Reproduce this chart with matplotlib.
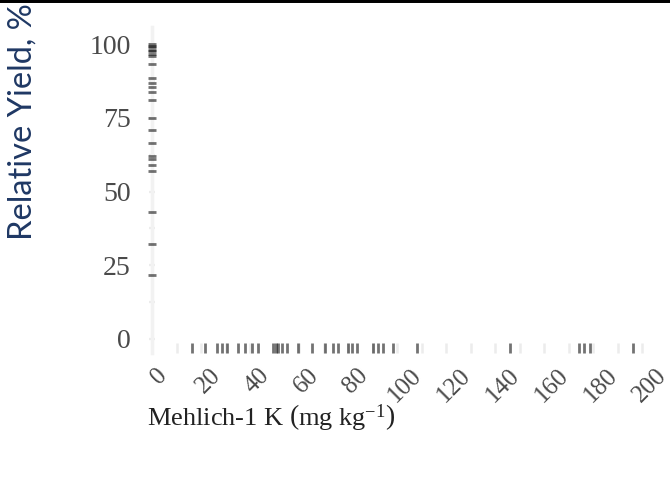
import numpy as np
import matplotlib
matplotlib.use("Agg")
import matplotlib.pyplot as plt
from matplotlib.lines import Line2D
from matplotlib.transforms import ScaledTranslation

# Mehlich-1 K values (x rug) and relative yield values (y rug)
soil_k = [16.2, 21.6, 26.4, 28.4, 30.6, 35.2, 38.0, 40.7, 43.4, 49.5, 50.5, 51.5,
          52.9, 54.9, 59.7, 65.2, 70.6, 74.0, 76.0, 80.1, 81.5, 83.5, 90.3, 92.4,
          94.2, 98.5, 108.0, 146.1, 174.4, 176.5, 178.8, 196.4]
rel_yield = [100, 99.5, 99, 98, 97.5, 96.5, 96, 93.1, 88.6, 86.7, 85.5, 83.6, 81.0,
             74.8, 70.8, 66.5, 62.0, 61.0, 59.0, 57.1, 43.2, 32.2, 21.7]
x_ticks = [0, 20, 40, 60, 80, 100, 120, 140, 160, 180, 200]
y_ticks = [0, 25, 50, 75, 100]

plt.rcParams['mathtext.fontset'] = 'custom'
plt.rcParams['mathtext.rm'] = 'Liberation Serif'
plt.rcParams['mathtext.it'] = 'Liberation Serif:italic'

fig = plt.figure(figsize=(6.7, 4.86), dpi=100)
ax = fig.add_axes([0.2269, 0.2737, 0.7387, 0.6708])
ax.set_xlim(0, 202)
ax.set_ylim(-4.75, 105.8)

faint = '#ececec'
for s in ['top', 'right', 'bottom']:
    ax.spines[s].set_visible(False)
ax.spines['left'].set_color('#f2f2f2')
ax.spines['left'].set_linewidth(2.5)

# rug marks
ax.vlines(soil_k, 0, 0.031, transform=ax.get_xaxis_transform(),
          color='black', alpha=0.55, linewidth=2.0, clip_on=False, zorder=4)
ax.hlines(rel_yield, -0.008, 0.008, transform=ax.get_yaxis_transform(),
          color='black', alpha=0.55, linewidth=2.0, capstyle='butt', clip_on=False, zorder=4)

# ticks
ax.set_xticks(x_ticks)
ax.set_xticks(np.arange(10, 201, 20), minor=True)
ax.set_yticks(y_ticks)
ax.set_yticks([12.5, 37.5, 62.5, 87.5], minor=True)
ax.tick_params(axis='x', which='both', direction='in', length=7.2, width=1.8,
               color=faint, pad=8)
ax.tick_params(axis='y', which='both', direction='inout', length=5, width=1.6,
               color=faint, pad=13)
ax.set_xticklabels(x_ticks, rotation=45, family='Liberation Serif', fontsize=18,
                   color='#4a4a4a')
ax.set_yticklabels(y_ticks, family='Liberation Serif', fontsize=20, color='#4a4a4a')
for lab in ax.get_xticklabels():
    lab.set_transform(lab.get_transform() + ScaledTranslation(0.075, 0, fig.dpi_scale_trans))

fig.text(0.405, 0.140, r'Mehlich-1 K $\left(\mathrm{mg\ kg^{-1}}\right)$',
         family='Liberation Serif', fontsize=19, color='#222222', ha='center', va='center')
fig.text(0.033, 0.749, 'Relative Yield, %', rotation=90, family='Lato', fontsize=23.5,
         color='#1f3864', ha='center', va='center')

fig.add_artist(Line2D([0, 1], [1, 1], transform=fig.transFigure, color='black', linewidth=4.3))

fig.savefig('out.png', dpi=100)
